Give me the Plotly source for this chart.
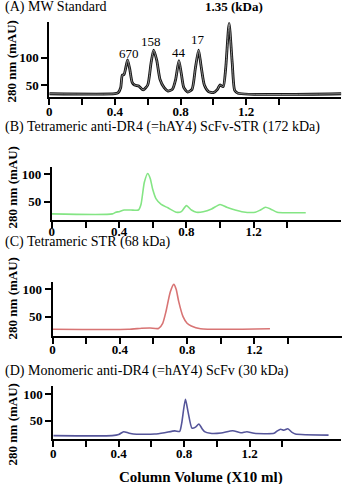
import plotly.graph_objects as go

W, H = 347, 484

# ---------------- data ----------------
a_x = [0, 0.40, 0.42, 0.435, 0.445, 0.455, 0.465, 0.477, 0.49, 0.505, 0.52, 0.545, 0.572, 0.60, 0.62, 0.636,
       0.655, 0.675, 0.70, 0.723, 0.75, 0.77, 0.79, 0.805, 0.82, 0.844, 0.87, 0.89, 0.91, 0.925, 0.945, 0.97,
       1.00, 1.025, 1.04, 1.06, 1.075, 1.096, 1.115, 1.13, 1.15, 1.78]
a_y = [34, 34, 36, 45, 68, 69, 80, 96, 80, 55, 50, 48, 41, 50, 90, 114,
       95, 60, 45, 39, 42, 60, 94.5, 70, 45, 37, 42, 80, 114, 85, 50, 38,
       36, 42, 50, 47, 80, 163, 90, 40, 35, 34]

b_x = [0, 0.36, 0.38, 0.40, 0.43, 0.47, 0.515, 0.53, 0.55, 0.57, 0.585, 0.60, 0.62, 0.65, 0.69, 0.74, 0.77,
       0.80, 0.83, 0.86, 0.90, 0.95, 1.00, 1.04, 1.09, 1.13, 1.21, 1.24, 1.27, 1.30, 1.34, 1.40, 1.51]
b_y = [28, 28, 31, 32, 35, 35, 35, 45, 85, 101, 92, 72, 55, 45, 39, 31, 32,
       43, 35, 31, 32, 37, 45, 40, 35, 32, 31, 35, 40, 37, 31, 30, 30]

c_x = [0, 0.45, 0.53, 0.58, 0.63, 0.655, 0.675, 0.70, 0.721, 0.735, 0.75, 0.776, 0.80, 0.825, 0.88, 1.293]
c_y = [27, 27, 29, 29.5, 28.5, 38, 60, 95, 109, 100, 78, 50, 38, 33, 28, 28]

d_x = [0, 0.36, 0.40, 0.43, 0.46, 0.49, 0.62, 0.68, 0.743, 0.773, 0.785, 0.808, 0.825, 0.848, 0.87, 0.89,
       0.91, 0.925, 0.96, 1.026, 1.097, 1.147, 1.184, 1.228, 1.35, 1.37, 1.39, 1.41, 1.434, 1.46, 1.48, 1.683]
d_y = [22, 22, 24, 29.4, 27, 25, 25, 27.5, 31, 30, 45, 90, 65, 36, 38, 43.8,
       35, 29.4, 26.4, 27, 31.3, 27.5, 29.4, 26.4, 26.4, 31, 34, 32, 35, 28, 25, 23]

mw_labels = ["670", "158", "44", "17", "<b>1.35 (kDa)</b>"]
mw_label_x = [0.488, 0.621, 0.793, 0.908, 1.126]
mw_label_y = [108.6, 128.8, 110.4, 133, 193]

panel_titles = ["(A) MW Standard",
                "(B) Tetrameric anti-DR4 (=hAY4) ScFv-STR (172 kDa)",
                "(C) Tetrameric STR (68 kDa)",
                "(D) Monomeric anti-DR4 (=hAY4) ScFv (30 kDa)"]
y_title = "280 nm (mAU)"
x_title = "Column Volume (X10 ml)"

x_tickvals = [0, 0.2, 0.4, 0.6, 0.8, 1.0, 1.2, 1.4]
x_ticktext = ["0", "", "0.4", "", "0.8", "", "1.2", ""]
y_tickvals = [50, 100]
y_ticktext = ["50", "100"]

# ---------------- layout geometry (pixels) ----------------
# x0px, px per unit, xmax, y50px, y100px, ymin, ymax, tick-label standoff
geo = [
    (46.7, 165.5, 1.78, 85.0, 57.7, 27.5, 165, -5),
    (49.3, 169.6, 1.72, 201.7, 174.0, 17, 113, -8),
    (50.0, 169.6, 1.72, 316.7, 289.3, 14.8, 112.8, -6),
    (50.7, 165.0, 1.76, 420.7, 394.0, 15.7, 115, -5),
]
title_y_px = [7, 127, 242, 371]
ytitle_y_px = [61, 187, 298, 424]

FONT = "Liberation Serif"
fig = go.Figure()

series = [(a_x, a_y, "#222222"), (b_x, b_y, "#84e584"), (c_x, c_y, "#d87474"), (d_x, d_y, "#55559a")]

layout = dict(width=W, height=H, margin=dict(l=0, r=0, t=0, b=0),
              paper_bgcolor="white", plot_bgcolor="white", showlegend=False,
              font=dict(family=FONT, size=12, color="black"))
annotations = []
axis_px = []

for i, ((xs, ys, col), g) in enumerate(zip(series, geo)):
    x0, xs_px, xmax, y50, y100, ymin, ymax, so = g
    ysc = (y50 - y100) / 50.0
    bot = y50 + (50 - ymin) * ysc
    top = y100 - (ymax - 100) * ysc
    axis_px.append((x0, xs_px, y100, ysc))
    sfx = "" if i == 0 else str(i + 1)
    xa = "x" + sfx
    ya = "y" + sfx
    if i == 0:
        fig.add_trace(go.Scatter(x=xs, y=ys, mode="lines", line=dict(color="#111111", width=2.8, shape="spline", smoothing=0.6),
                                 xaxis=xa, yaxis=ya, hoverinfo="skip"))
        fig.add_trace(go.Scatter(x=xs, y=ys, mode="lines", line=dict(color="#9a9a9a", width=0.9, shape="spline", smoothing=0.6),
                                 xaxis=xa, yaxis=ya, hoverinfo="skip"))
    else:
        fig.add_trace(go.Scatter(x=xs, y=ys, mode="lines", line=dict(color=col, width=1.6, shape="spline", smoothing=0.6),
                                 xaxis=xa, yaxis=ya, hoverinfo="skip"))
    layout["xaxis" + sfx] = dict(domain=[x0 / W, (x0 + xmax * xs_px) / W], range=[0, xmax], anchor=ya,
                                 showline=True, linecolor="black", linewidth=2, showgrid=False, zeroline=False,
                                 ticks="outside", ticklen=6, tickwidth=2, tickcolor="black",
                                 tickvals=x_tickvals, ticktext=x_ticktext, ticklabelstandoff=so,
                                 tickfont=dict(family=FONT, size=13, color="black", weight="bold"))
    layout["yaxis" + sfx] = dict(domain=[1 - bot / H, 1 - top / H], range=[ymin, ymax], anchor=xa,
                                 showline=True, linecolor="black", linewidth=2, showgrid=False, zeroline=False,
                                 ticks="outside", ticklen=6, tickwidth=2, tickcolor="black",
                                 tickvals=y_tickvals, ticktext=y_ticktext,
                                 tickfont=dict(family=FONT, size=13, color="black", weight="bold"))
    annotations.append(dict(text=panel_titles[i], xref="paper", yref="paper", x=0, y=1 - title_y_px[i] / H,
                            xanchor="left", yanchor="middle", showarrow=False,
                            font=dict(family=FONT, size=14, color="black")))
    annotations.append(dict(text=y_title, xref="paper", yref="paper", x=9.5 / W, y=1 - ytitle_y_px[i] / H,
                            xanchor="center", yanchor="middle", textangle=-90, showarrow=False,
                            font=dict(family=FONT, size=13, color="black", weight="bold")))

# peak labels placed via panel A's axis scale (data -> paper)
x0, xs_px, y100, ysc = axis_px[0]
for t, lx, ly in zip(mw_labels, mw_label_x, mw_label_y):
    px = x0 + lx * xs_px
    py = y100 - (ly - 100) * ysc
    annotations.append(dict(text=t, xref="paper", yref="paper", x=px / W, y=1 - py / H, showarrow=False,
                            xanchor="center", yanchor="middle",
                            font=dict(family=FONT, size=13, color="black")))

annotations.append(dict(text=x_title, xref="paper", yref="paper", x=200 / W, y=1 - 477 / H,
                        xanchor="center", yanchor="middle", showarrow=False,
                        font=dict(family=FONT, size=15, color="black", weight="bold")))

layout["annotations"] = annotations
fig.update_layout(**layout)
fig.write_html("out.html")
